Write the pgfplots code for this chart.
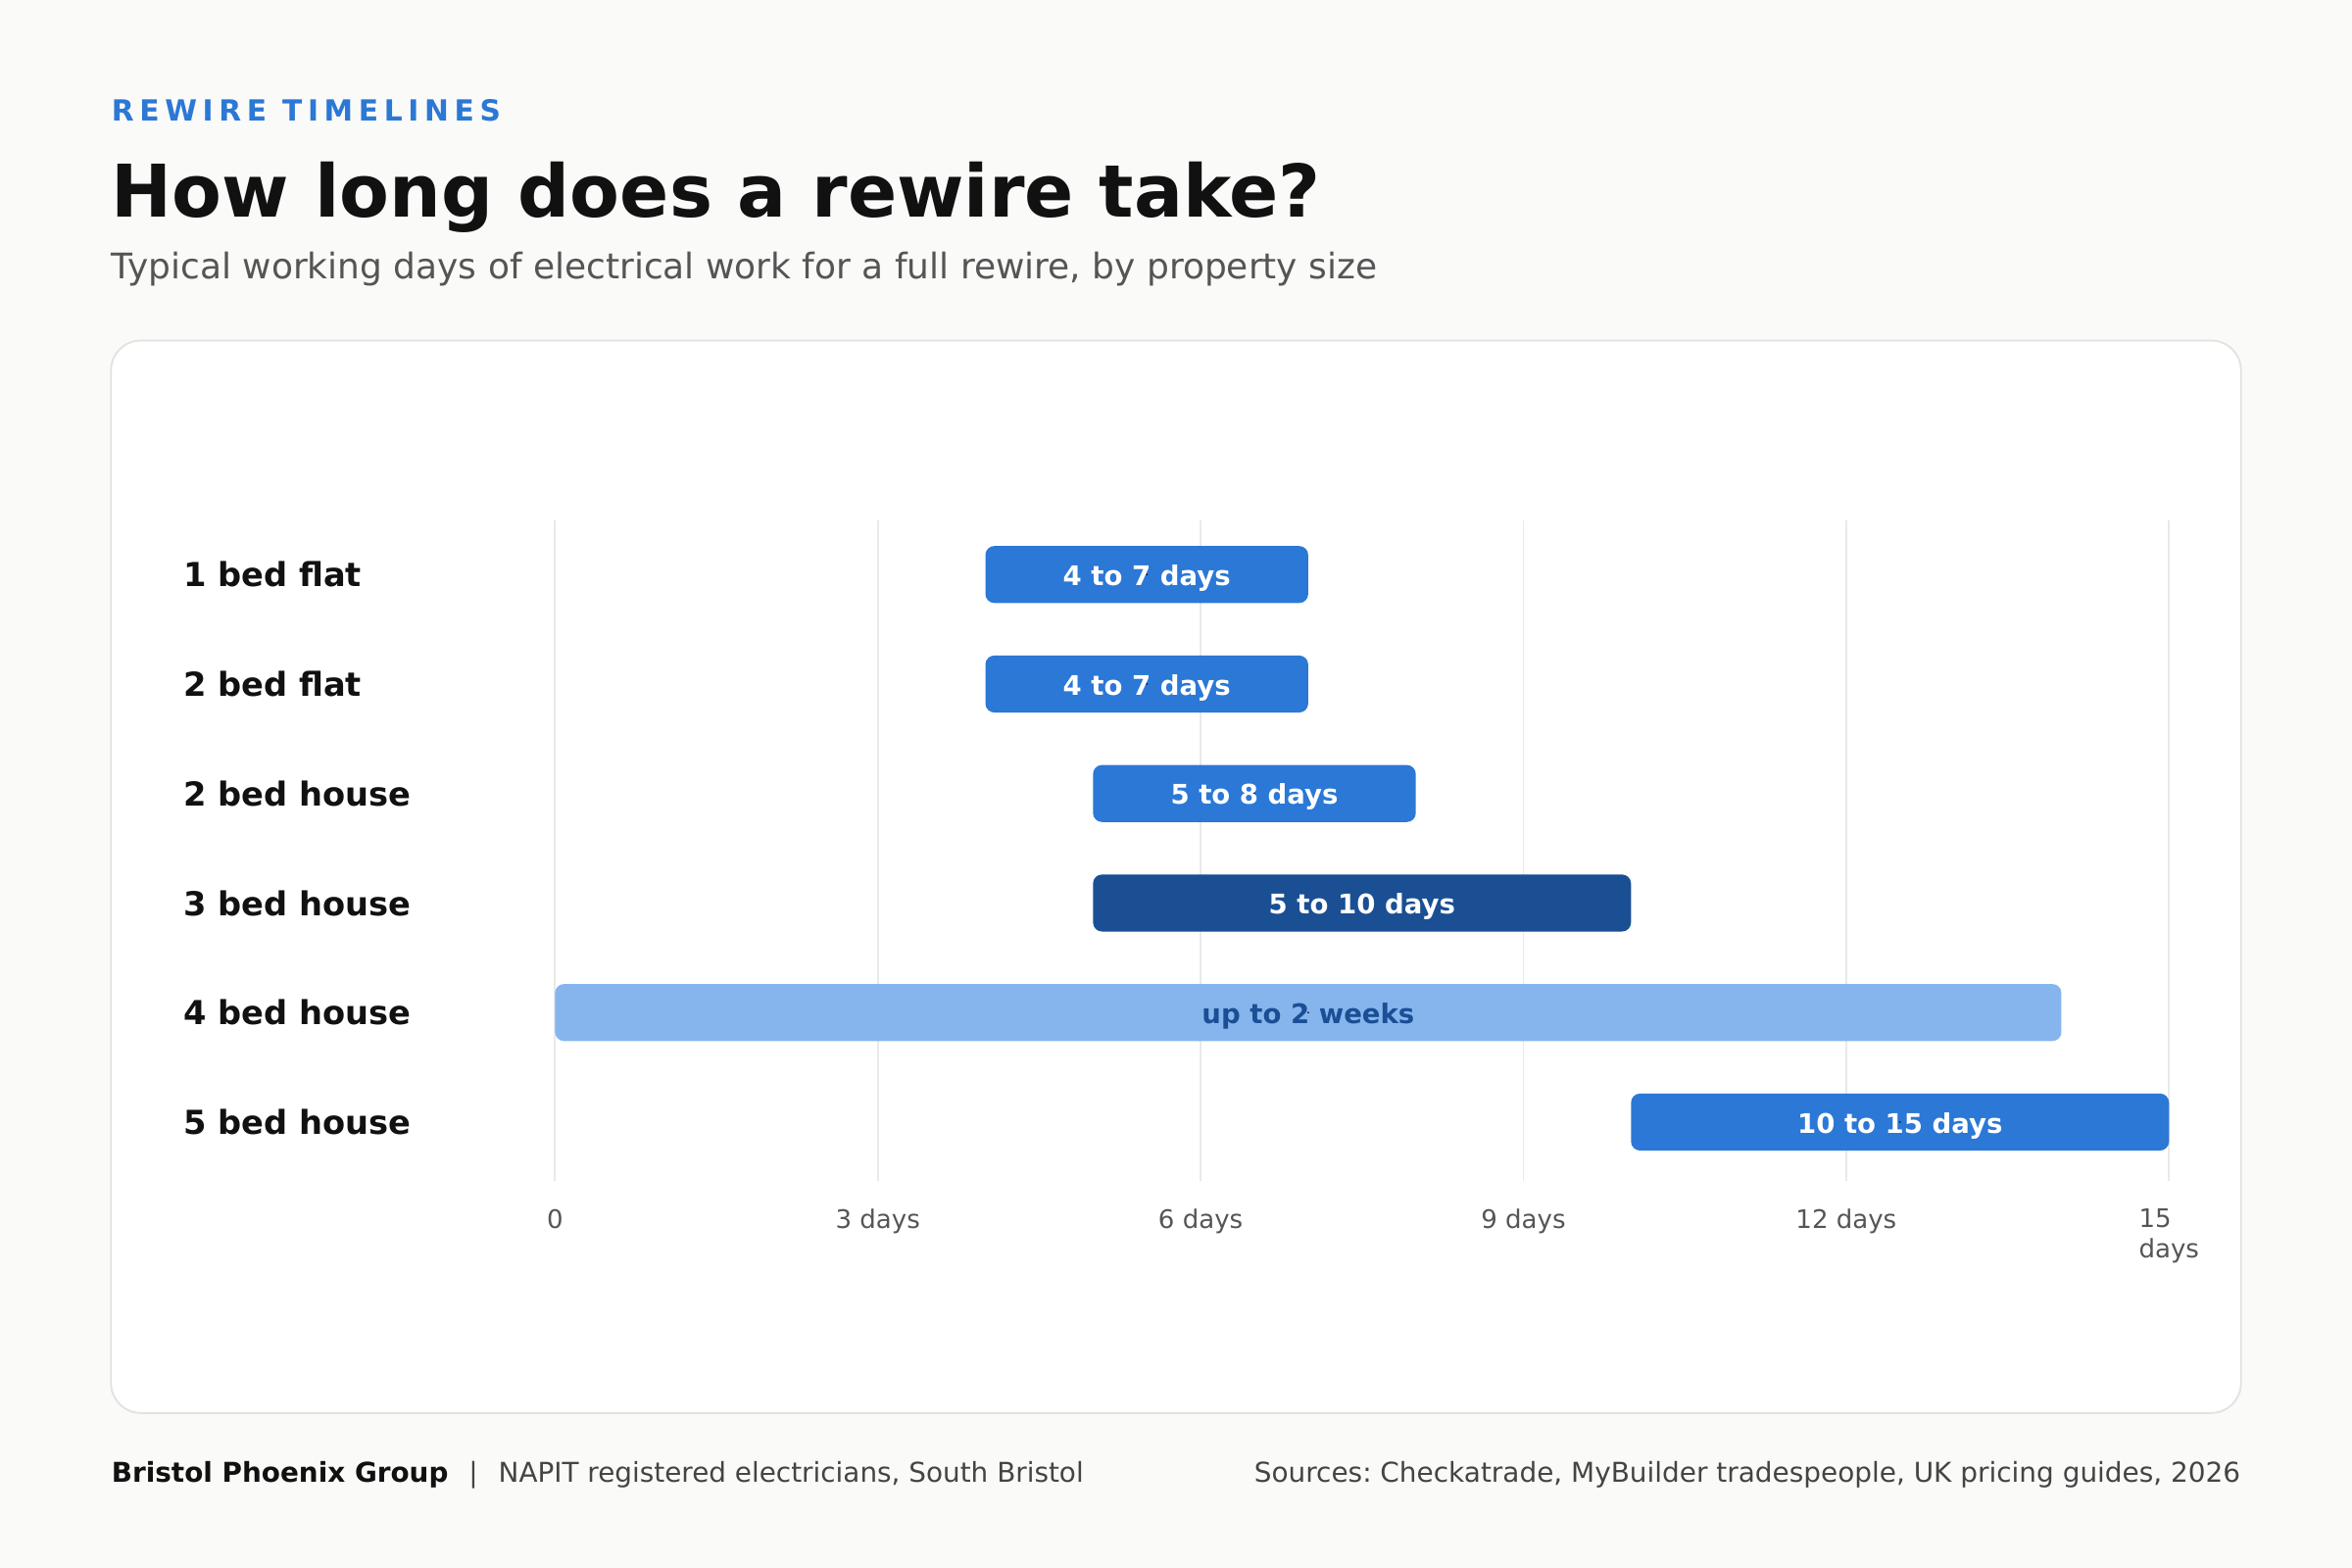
\documentclass[border=0pt]{standalone}
\usepackage{fontspec}
\setmainfont{DejaVu Sans}
\usepackage{pgfplots}
\pgfplotsset{compat=1.18}
\frenchspacing

\definecolor{pagebg}{HTML}{FAFAF8}
\definecolor{cardline}{HTML}{E2E2DF}
\definecolor{accent}{HTML}{2B78D5}
\definecolor{barmid}{HTML}{2B78D6}
\definecolor{bardark}{HTML}{1A4F94}
\definecolor{barlight}{HTML}{86B5EE}
\definecolor{gridgrey}{HTML}{E9E9E9}
\definecolor{inkgrey}{HTML}{555555}
\definecolor{footgrey}{HTML}{444444}
\definecolor{ink}{HTML}{111111}

% all rows share one frame; bars of each colour get their own layer
\pgfplotsset{
  rowaxis/.style={
    at={(185pt,-393.5pt)}, anchor=south west,
    scale only axis, width=538pt, height=220pt,
    xmin=0, xmax=15, ymin=-0.493, ymax=5.534,
    y dir=reverse,
  },
  rangebars/.style={rowaxis, hide axis, xbar stacked, bar width=19pt},
  barlabel/.style={
    only marks, mark=*, mark size=0.01pt, mark options={draw=none, fill=none},
    point meta=explicit symbolic, nodes near coords,
    every node near coord/.append style={anchor=center,
      font=\bfseries\fontsize{9}{11}\selectfont,
      text height=0.73em, text depth=0pt, text=#1},
  },
}

\begin{document}
\begin{tikzpicture}[x=0.5pt, y=-0.5pt]
% page and card
\fill[pagebg] (0,0) rectangle (1568,1045.33);
\draw[cardline, fill=white, line width=0.6pt, rounded corners=10pt] (74,227) rectangle (1494,942);

% headings
\node[anchor=base west, inner sep=0pt, text=accent,
  font=\bfseries\fontsize{9.7}{11}\selectfont\addfontfeature{LetterSpace=19}] at (74,81) {REWIRE TIMELINES};
\node[anchor=base west, inner sep=0pt, text=ink,
  font=\bfseries\fontsize{24.2}{29}\selectfont] at (74,145) {How long does a rewire take?};
\node[anchor=base west, inner sep=0pt, text=inkgrey,
  font=\fontsize{11.75}{14}\selectfont] at (74,186) {Typical working days of electrical work for a full rewire, by property size};

% grid, labels and the mid-blue bars
\begin{axis}[rowaxis, xbar stacked, bar width=19pt,
  axis line style={draw=none},
  major tick length=0pt,
  xmajorgrids, grid style={gridgrey, line width=0.6pt},
  xtick={0,3,6,9,12,15},
  xticklabels={0,3 days,6 days,9 days,12 days,{15\\days}},
  xticklabel style={align=left, text=inkgrey, font=\fontsize{8.5}{10}\selectfont, yshift=-6pt},
  ytick={0,1,2,3,4,5},
  yticklabels={1 bed flat,2 bed flat,2 bed house,3 bed house,4 bed house,5 bed house},
  yticklabel style={anchor=west, xshift=-124pt, inner xsep=0pt, text=ink,
    font=\bfseries\fontsize{11}{13}\selectfont},
]
\addplot[draw=none, fill=none] coordinates {(4,0) (4,1) (5,2) (10,5)};
\addplot[draw=none, fill=barmid, rounded corners=3pt] coordinates {(3,0) (3,1) (3,2) (5,5)};
\end{axis}

% 3 bed house
\begin{axis}[rangebars]
\addplot[draw=none, fill=none] coordinates {(5,3)};
\addplot[draw=none, fill=bardark, rounded corners=3pt] coordinates {(5,3)};
\end{axis}

% 4 bed house
\begin{axis}[rangebars]
\addplot[draw=none, fill=none] coordinates {(0,4)};
\addplot[draw=none, fill=barlight, rounded corners=3pt] coordinates {(14,4)};
\end{axis}

% text in the bars
\begin{axis}[rowaxis, hide axis]
\addplot[barlabel=white] coordinates {
  (5.5,0) [4 to 7 days]
  (5.5,1) [4 to 7 days]
  (6.5,2) [5 to 8 days]
  (7.5,3) [5 to 10 days]
  (12.5,5) [10 to 15 days]
};
\addplot[barlabel=bardark] coordinates {(7,4) [up to 2 weeks]};
\end{axis}

% footer
\node[anchor=base west, inner sep=0pt, text=footgrey, font=\fontsize{9.1}{11}\selectfont] at (74,988)
  {\textcolor{ink}{\bfseries Bristol Phoenix Group}\hspace{0.75em}|\hspace{0.75em}NAPIT registered electricians, South Bristol};
\node[anchor=base east, inner sep=0pt, text=footgrey, font=\fontsize{9.12}{11}\selectfont] at (1494,988)
  {Sources: Checkatrade, MyBuilder tradespeople, UK pricing guides, 2026};
\end{tikzpicture}
\end{document}
